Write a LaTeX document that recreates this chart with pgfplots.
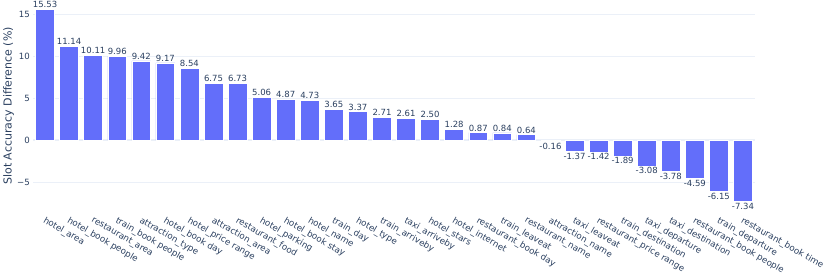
\documentclass[border=0pt]{standalone}
\usepackage{fontspec}
\setmainfont{DejaVu Sans}
\usepackage{pgfplots}
\usepackage{pgfplotstable}
\pgfplotsset{compat=1.18}
\definecolor{barc}{HTML}{636EFA}
\definecolor{txt}{HTML}{2A3F5F}
\definecolor{gridc}{HTML}{EBF0F8}
\pgfplotstableread{
x y
0 15.53
1 11.14
2 10.11
3 9.96
4 9.42
5 9.17
6 8.54
7 6.75
8 6.73
9 5.06
10 4.87
11 4.73
12 3.65
13 3.37
14 2.71
15 2.61
16 2.50
17 1.28
18 0.87
19 0.84
20 0.64
21 -0.16
22 -1.37
23 -1.42
24 -1.89
25 -3.08
26 -3.78
27 -4.59
28 -6.15
29 -7.34
}\data
\begin{document}
\begin{tikzpicture}
\path[use as bounding box] (-33pt,-68pt) rectangle (797pt,209pt);
\begin{axis}[
  at={(0pt,0pt)}, anchor=south west,
  scale only axis, width=722pt, height=206pt,
  xmin=-0.5, xmax=29.5, ymin=-8.21, ymax=16.31,
  ybar, bar width=0.78,
  axis line style={draw=none},
  major tick length=0pt,
  ymajorgrids, grid style={gridc, line width=0.8pt},
  ytick={-5,0,5,10,15},
  yticklabels={−5,0,5,10,15},
  yticklabel style={font=\fontsize{8.6}{10}\selectfont, text=txt, inner sep=1pt, xshift=-2pt},
  xtick={0,...,29},
  xticklabels={hotel\_area,hotel\_book people,restaurant\_area,train\_book people,attraction\_type,hotel\_book day,hotel\_price range,attraction\_area,restaurant\_food,hotel\_parking,hotel\_book stay,hotel\_name,train\_day,hotel\_type,train\_arriveby,taxi\_arriveby,hotel\_stars,hotel\_internet,restaurant\_book day,train\_leaveat,restaurant\_name,attraction\_name,taxi\_leaveat,restaurant\_price range,train\_destination,taxi\_departure,taxi\_destination,restaurant\_book people,train\_departure,restaurant\_book time},
  xticklabel style={xshift=1pt, yshift=-7pt, font=\fontsize{8.7}{10}\selectfont, text=txt, rotate=-30, anchor=north west, inner sep=0pt},
  ylabel={Slot Accuracy Difference (\%)},
  ylabel style={at={(axis description cs:-0.0416,0.5)}, anchor=north, font=\fontsize{11}{13}\selectfont, text=txt, inner sep=0pt},
  nodes near coords,
  point meta=explicit,
  nodes near coords style={font=\fontsize{8.5}{10}\selectfont, text=txt, inner sep=1.2pt,
    /pgf/number format/.cd, fixed, fixed zerofill, precision=2, assume math mode=true},
  /pgf/number format/assume math mode=true,
]
\draw[gridc, line width=1.5pt] (axis cs:-0.5,0) -- (axis cs:29.5,0);
\addplot[fill=barc, draw=white, line width=0.6pt] table[x=x, y=y, meta=y] {\data};
\end{axis}
\end{tikzpicture}
\end{document}
